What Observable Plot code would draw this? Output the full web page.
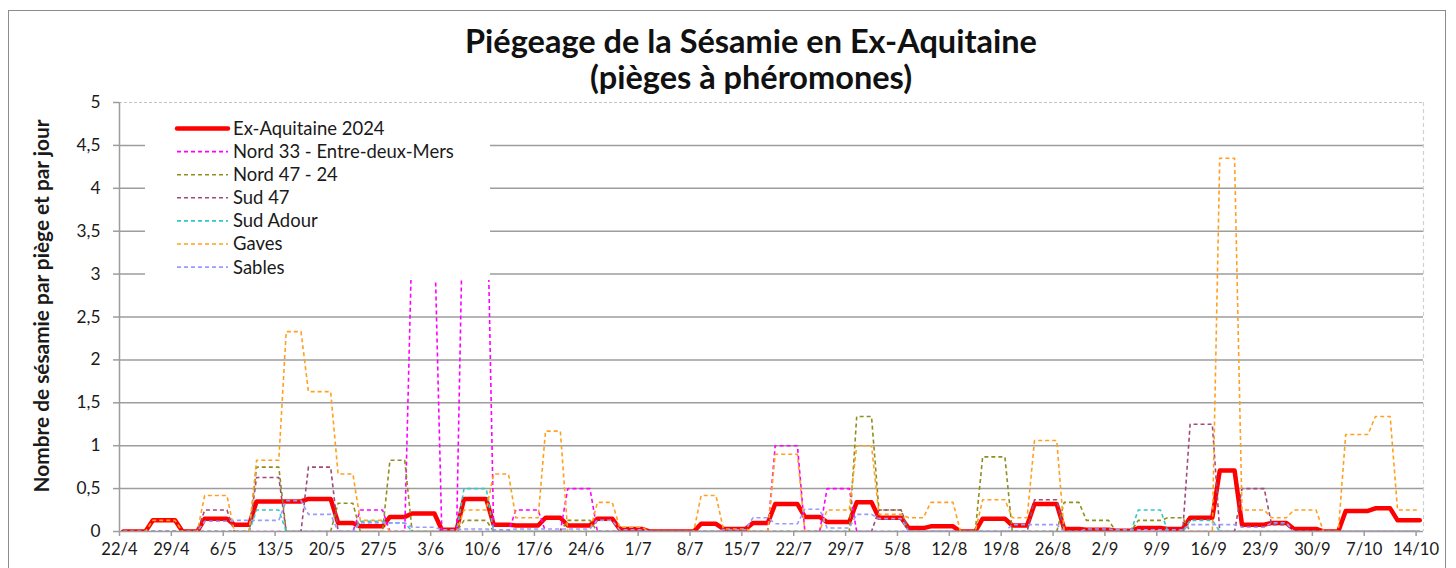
<!DOCTYPE html>
<html>
<head>
<meta charset="utf-8">
<script src="https://cdn.jsdelivr.net/npm/d3@7"></script>
<script src="https://cdn.jsdelivr.net/npm/@observablehq/plot@0.6"></script>
<style>
  body { margin: 0; background: #fff; }
  #wrap { position: relative; width: 1456px; height: 568px; overflow: hidden; background: #fff; }
  #wrap > svg { position: absolute; left: 0; top: 0; }
  #frame { position: absolute; left: 8px; top: 10px; width: 1438px; height: 600px; border: 1.5px solid #8c8c8c; box-sizing: border-box; pointer-events: none; }
</style>
</head>
<body>
<div id="wrap"><div id="frame"></div></div>
<script>
// ---------- DATA ----------
// start date of each trapping period (values are per trap and per day over the period)
const periodStarts = ["2024-04-22","2024-04-26","2024-04-30","2024-05-03","2024-05-07","2024-05-10","2024-05-14","2024-05-17","2024-05-21","2024-05-24",
  "2024-05-28","2024-05-31","2024-06-04","2024-06-07","2024-06-11","2024-06-14","2024-06-18","2024-06-21","2024-06-25","2024-06-28",
  "2024-07-02","2024-07-05","2024-07-09","2024-07-12","2024-07-16","2024-07-19","2024-07-23","2024-07-26","2024-07-30","2024-08-02",
  "2024-08-06","2024-08-09","2024-08-13","2024-08-16","2024-08-20","2024-08-23","2024-08-27","2024-08-30","2024-09-03","2024-09-06",
  "2024-09-10","2024-09-13","2024-09-17","2024-09-20","2024-09-24","2024-09-27","2024-10-01","2024-10-04","2024-10-08","2024-10-11"];
const lastDay = "2024-10-14";

const exAquitaine = [0,0.13,0,0.15,0.08,0.35,0.35,0.38,0.10,0.06, 0.17,0.21,0.02,0.38,0.08,0.07,0.16,0.07,0.15,0.03,
  0,0,0.09,0.03,0.10,0.32,0.17,0.11,0.34,0.16, 0.04,0.06,0,0.15,0.07,0.32,0.03,0.02,0.01,0.04, 0.03,0.16,0.71,0.08,0.10,0.03,0,0.24,0.27,0.13];
const nord33 = [0,0,0,0,0,0,0,0,0,0.25, 0,3.5,0,4.5,0,0.25,0,0.5,0,0,
  0,0,0,0,0,1.0,0,0.5,0,0, 0,0,0,0,0,0,0,0,0,0, 0,0,0,0,0,0,0,0,0,0];
const nord47 = [0,0,0,0,0,0.75,0,0,0.33,0, 0.83,0,0,0.13,0,0,0,0.13,0,0,
  0,0,0,0,0,0,0,0,1.34,0.25, 0,0,0,0.87,0,0,0.34,0.13,0,0.13, 0.16,0,0,0,0,0,0,0,0,0];
const sud47 = [0,0,0,0.25,0,0.63,0,0.75,0,0, 0,0,0,0,0,0,0,0,0,0,
  0,0,0,0,0,0,0,0,0,0.25, 0,0,0,0,0,0.37,0,0,0,0, 0,1.25,0,0.5,0.08,0,0,0,0,0];
const sudAdour = [0,0,0,0,0,0.25,0,0,0,0.12, 0.10,0,0,0.5,0,0,0,0,0,0,
  0,0,0,0,0,0,0,0,0,0, 0,0,0,0,0,0,0,0,0,0.25, 0,0.13,0,0,0,0,0,0,0,0];
const gaves = [0,0.13,0,0.42,0,0.83,2.33,1.63,0.67,0.13, 0,0,0,0.25,0.67,0.16,1.17,0,0.34,0.05,
  0,0,0.42,0.03,0,0.9,0,0.25,1.0,0.2, 0.16,0.34,0,0.37,0.16,1.06,0,0,0,0, 0,0,4.35,0.25,0.16,0.25,0,1.13,1.34,0.25];
const sables = [0,0,0,0.12,0.13,0.13,0.36,0.2,0,0.1, 0.1,0.05,0.02,0.03,0.02,0.03,0.03,0.03,0.13,0.02,
  0,0,0,0.02,0.16,0.09,0.26,0.04,0.2,0.15, 0,0,0,0,0.08,0.08,0,0.03,0.02,0.02, 0.02,0.08,0.08,0.05,0.1,0,0,0,0,0];

const seriesNames = ["Ex-Aquitaine 2024","Nord 33 - Entre-deux-Mers","Nord 47 - 24","Sud 47","Sud Adour","Gaves","Sables"];
const seriesValues = [exAquitaine, nord33, nord47, sud47, sudAdour, gaves, sables];
const seriesColors = ["#ff0000","#ff00ff","#8f8f1f","#a04a7a","#33c8c8","#ffa020","#9a9aff"];

const titleLines = ["Piégeage de la Sésamie en Ex-Aquitaine", "(pièges à phéromones)"];
const yLabel = "Nombre de sésamie par piège et par jour";
const yTicks = [0,0.5,1,1.5,2,2.5,3,3.5,4,4.5,5];

// ---------- BUILD ----------
const FONT = "Lato";
const parse = d3.utcParse("%Y-%m-%d");
const startDates = periodStarts.map(parse);
const x0 = startDates[0];
const x1 = d3.utcDay.offset(parse(lastDay), 1);
const days = d3.utcDay.range(x0, x1);
const xTicks = d3.utcMonday.range(x0, x1);

const ctx = document.createElement("canvas").getContext("2d");
function fit(text, target, weight = "normal") {
  ctx.font = `${weight} 100px ${FONT}`;
  return 100 * target / ctx.measureText(text).width;
}
const titleSize = fit(titleLines[0], 572, "bold");
const legendSize = fit("Nord 33 - Entre-deux-Mers", 221);
const yLabelSize = fit(yLabel, 374, "bold");
const xTickSize = fit("14/10", 46);
const yTickSize = fit("4,5", 24);

function expand(name, values) {
  return days.map(day => ({
    series: name,
    date: d3.utcHour.offset(day, 12),
    value: values[d3.bisectRight(startDates, day) - 1]
  }));
}

const commaFmt = d => String(d).replace(".", ",");
const gridColor = "#9d9d9d";

const lineMarks = seriesNames.map((name, i) => Plot.lineY(expand(name, seriesValues[i]), {
  x: "date", y: "value",
  stroke: seriesColors[i],
  strokeWidth: i === 0 ? 4.5 : 1.6,
  strokeDasharray: i === 0 ? null : "4,3",
  strokeLinejoin: "round",
  strokeLinecap: i === 0 ? "round" : "butt",
  clip: true
}));

const chart = Plot.plot({
  width: 1456, height: 568,
  marginLeft: 119, marginRight: 33, marginTop: 102, marginBottom: 37,
  style: { fontFamily: FONT, color: "#1a1a1a", background: "transparent" },
  x: { type: "utc", domain: [x0, x1] },
  y: { domain: [0, 5] },
  marks: [
    Plot.ruleY(yTicks.filter(d => d > 0 && d < 5), { stroke: gridColor, strokeWidth: 1.5 }),
    Plot.ruleY([5], { stroke: "#c4c4c4", strokeWidth: 1.2, strokeDasharray: "3,2" }),
    Plot.ruleX([x1], { stroke: "#d0d0d0", strokeWidth: 1.2, strokeDasharray: "4,3" }),
    Plot.axisY({ ticks: yTicks, tickSize: 6, tickPadding: 13, tickFormat: commaFmt, fontSize: yTickSize, stroke: gridColor, strokeWidth: 1.5, label: null }),
    Plot.axisX({ ticks: xTicks, tickSize: 5, tickPadding: 7, tickFormat: d3.utcFormat("%-d/%-m"), fontSize: xTickSize, stroke: gridColor, strokeWidth: 1.5, label: null }),
    Plot.ruleX([x0], { stroke: gridColor, strokeWidth: 1.5 }),
    Plot.ruleY([0], { stroke: gridColor, strokeWidth: 1.5 }),
    ...lineMarks,
    Plot.text([yLabel], { frameAnchor: "left", dx: -77, dy: -11, rotate: -90, text: d => d, textAnchor: "middle", lineAnchor: "middle", fontWeight: "bold", fontSize: yLabelSize, fill: "#1a1a1a" })
  ]
});
const wrap = document.getElementById("wrap");
wrap.insertBefore(chart, wrap.firstChild);

// ---------- TITLE + LEGEND overlay ----------
const ov = d3.select(wrap).append("svg")
  .attr("width", 1456).attr("height", 568)
  .style("position", "absolute").style("left", 0).style("top", 0)
  .style("pointer-events", "none")
  .style("font-family", FONT);

ov.selectAll("text.title").data(titleLines).join("text")
  .attr("class", "title")
  .attr("x", 751).attr("y", (d, i) => 53 + i * 36)
  .attr("text-anchor", "middle")
  .attr("font-weight", "bold").attr("font-size", titleSize).attr("fill", "#111")
  .text(d => d);

const lg = ov.append("g");
lg.append("rect").attr("x", 145).attr("y", 104).attr("width", 345).attr("height", 176).attr("fill", "#fff");
const items = lg.selectAll("g.item").data(seriesNames).join("g")
  .attr("class", "item")
  .attr("transform", (d, i) => `translate(0,${128.5 + i * 23.1})`);
items.append("line").attr("x1", 177).attr("x2", 228).attr("y1", 0).attr("y2", 0)
  .attr("stroke", (d, i) => seriesColors[i])
  .attr("stroke-width", (d, i) => i === 0 ? 4.5 : 1.6)
  .attr("stroke-dasharray", (d, i) => i === 0 ? null : "4,3")
  .attr("stroke-linecap", (d, i) => i === 0 ? "round" : "butt");
items.append("text").attr("x", 233).attr("y", 0).attr("dy", "0.35em")
  .attr("font-size", legendSize).attr("fill", "#1a1a1a")
  .text(d => d);
</script>
</body>
</html>
